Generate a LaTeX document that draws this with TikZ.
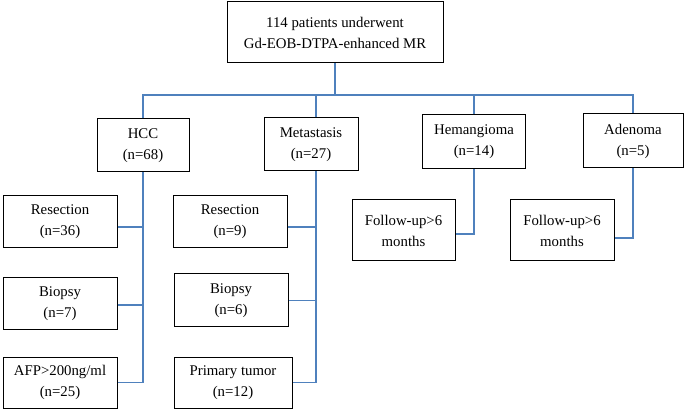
\documentclass[tikz,border=0pt]{standalone}
\usepackage{fontspec}
\setmainfont{Liberation Serif}
\begin{document}
\begin{tikzpicture}[x=1pt,y=-1pt,
  box/.style={draw=black,line width=1pt,align=center,inner sep=0pt,
    font=\fontsize{14.8}{21}\selectfont},
  conn/.style={draw={rgb,255:red,79;green,129;blue,189},line width=1.4pt}]
\useasboundingbox (0,0) rectangle (685,411);
\node[box,minimum width=216pt,minimum height=61pt] (top) at (335,32.5) {114 patients underwent\\Gd-EOB-DTPA-enhanced MR};
\node[box,minimum width=92pt,minimum height=53pt] (hcc) at (143,145.5) {HCC\\(n=68)};
\node[box,minimum width=94pt,minimum height=53pt] (met) at (311,144.5) {Metastasis\\(n=27)};
\node[box,minimum width=103pt,minimum height=54pt] (hem) at (474,142) {Hemangioma\\(n=14)};
\node[box,minimum width=100pt,minimum height=54pt] (ade) at (633,141) {Adenoma\\(n=5)};
\node[box,minimum width=114pt,minimum height=52pt] (hres) at (60,222) {Resection\\(n=36)};
\node[box,minimum width=114pt,minimum height=52pt] (hbio) at (60,304) {Biopsy\\(n=7)};
\node[box,minimum width=114pt,minimum height=51pt] (afp) at (60,382.5) {AFP>200ng/ml\\(n=25)};
\node[box,minimum width=114pt,minimum height=52pt] (mres) at (230,222) {Resection\\(n=9)};
\node[box,minimum width=114pt,minimum height=53pt] (mbio) at (231,300.5) {Biopsy\\(n=6)};
\node[box,minimum width=118pt,minimum height=51pt] (prim) at (233,382.5) {Primary tumor\\(n=12)};
\node[box,minimum width=103pt,minimum height=61pt] (fu1) at (403.5,230.5) {Follow-up>6\\months};
\node[box,minimum width=104pt,minimum height=61pt] (fu2) at (562,230.5) {Follow-up>6\\months};
\coordinate (bus) at (143,95);
\coordinate (mstem) at ([xshift=5pt]met.south);
\coordinate (mtop) at ([xshift=5pt]met.north);
% top level
\draw[conn] (top.south) -- (top.south |- bus);
\draw[conn] (hcc.north) -- (hcc.north |- bus) -- (ade.north |- bus) -- (ade.north);
\draw[conn] (mtop) -- (mtop |- bus);
\draw[conn] (hem.north) -- (hem.north |- bus);
% HCC branch
\draw[conn] (hcc.south) |- (afp.east);
\draw[conn] ([yshift=-5pt]hres.east) -- ([yshift=-5pt]hres.east -| hcc.south);
\draw[conn] ([yshift=-1pt]hbio.east) -- ([yshift=-1pt]hbio.east -| hcc.south);
% Metastasis branch
\draw[conn] (mstem) |- (prim.east);
\draw[conn] ([yshift=-5pt]mres.east) -- ([yshift=-5pt]mres.east -| mstem);
\draw[conn] (mbio.east) -- (mbio.east -| mstem);
% Follow-ups
\draw[conn] (hem.south) |- ([yshift=-3.5pt]fu1.east);
\draw[conn] (ade.south) |- ([yshift=-7.5pt]fu2.east);
\end{tikzpicture}
\end{document}
